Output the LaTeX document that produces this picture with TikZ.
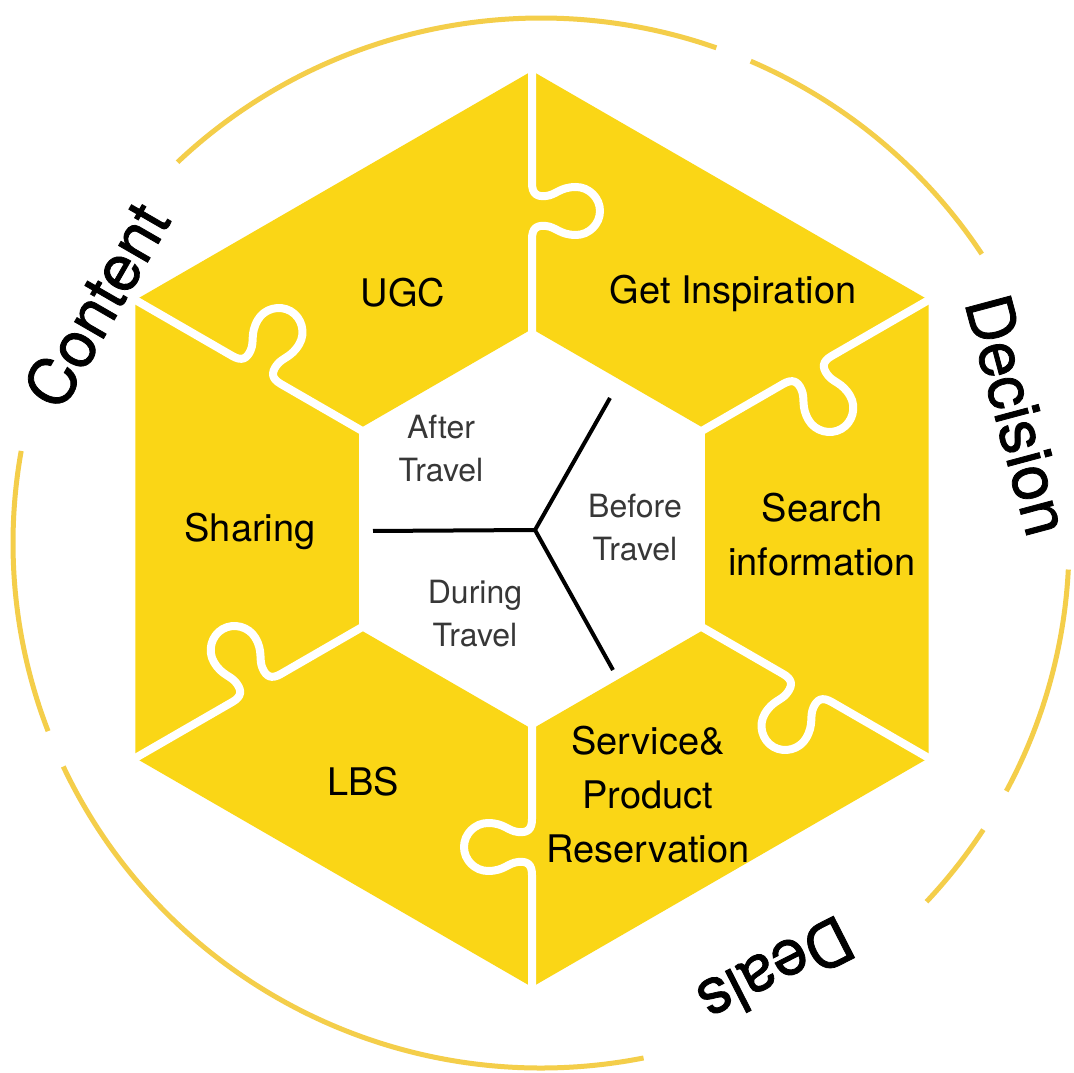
\documentclass[tikz,border=0pt]{standalone}
\usepackage{fontspec}
\setmainfont{TeX Gyre Heros}
\newfontfamily\stagefont{TeX Gyre Heros}[FakeBold=1.2]
\begin{document}
\begin{tikzpicture}[x=1pt,y=1pt]
\definecolor{hexyellow}{RGB}{250,214,22}
\definecolor{ringgold}{RGB}{244,206,74}
\definecolor{phasegray}{RGB}{55,55,55}
\tikzset{
  piecelabel/.style={font=\fontsize{38}{54}\selectfont, align=center, text=black, inner sep=0},
  phaselabel/.style={font=\fontsize{32}{43}\selectfont, align=center, text=phasegray, inner sep=0},
  stagelabel/.style={font=\stagefont\fontsize{64}{64}\selectfont, text=black, inner sep=0},
  ringarc/.style={draw=ringgold, line width=5},
  seam/.style={draw=white, line width=8, line join=round},
  spoke/.style={draw=black, line width=4},
}
\useasboundingbox (0,0) rectangle (1074,1072);
\fill[white] (0,0) rectangle (1074,1072);

% hexagonal ring of six puzzle pieces
\begin{scope}[shift={(532,543)}]
  \fill[hexyellow, even odd rule]
    (90:458) -- (30:458) -- (-30:458) -- (-90:458) -- (-150:458) -- (150:458) -- cycle
    (90:200) -- (30:200) -- (-30:200) -- (-90:200) -- (-150:200) -- (150:200) -- cycle;
  % seams between pieces, each with a tab pointing clockwise
  \foreach \a in {90,30,-30,-90,-150,150}{
    \begin{scope}[rotate=\a]
      \draw[seam] (190,0) -- (290,0)
        .. controls (301,0) and (304,-5) .. (303,-14)
        .. controls (302,-24) and (294,-28) .. (294,-44)
        .. controls (294,-57) and (305,-68) .. (318,-68)
        .. controls (331,-68) and (342,-57) .. (342,-44)
        .. controls (342,-28) and (334,-24) .. (333,-14)
        .. controls (332,-5) and (335,0) .. (346,0) -- (475,0);
    \end{scope}
  }
\end{scope}

% outer broken ring
\begin{scope}[shift={(541,529)}]
  \draw[ringarc] (70.6:528 and 525) arc[start angle=70.6, end angle=133.5, x radius=528, y radius=525];
  \draw[ringarc] (33.4:528 and 525) arc[start angle=33.4, end angle=66.6, x radius=528, y radius=525];
  \draw[ringarc] (-28.2:528 and 525) arc[start angle=-28.2, end angle=-2.9, x radius=528, y radius=525];
  \draw[ringarc] (-43.1:528 and 525) arc[start angle=-43.1, end angle=-33.1, x radius=528, y radius=525];
  \draw[ringarc] (205.2:528 and 525) arc[start angle=205.2, end angle=281.2, x radius=528, y radius=525];
  \draw[ringarc] (169.9:528 and 525) arc[start angle=169.9, end angle=201, x radius=528, y radius=525];
\end{scope}

% piece labels
\node[piecelabel] (ugc) at (403,779) {UGC};
\node[piecelabel] (insp) at (733,779) {Get Inspiration};
\node[piecelabel] (search) at (822,537) {Search\\information};
\node[piecelabel] (reserve) at (648,277) {Service\&\\Product\\Reservation};
\node[piecelabel] (lbs) at (363,290) {LBS};
\node[piecelabel] (share) at (250,541) {Sharing};

% travel phases in the middle
\coordinate (hub) at (535,542);
\coordinate (spokeW) at (373,541);
\coordinate (spokeNE) at (610,674);
\coordinate (spokeSE) at (613,402);
\draw[spoke] (spokeW) -- (hub) -- (spokeNE);
\draw[spoke] (hub) -- (spokeSE);
\node[phaselabel] (after) at (441,623) {After\\Travel};
\node[phaselabel] (before) at (635,544) {Before\\Travel};
\node[phaselabel] (during) at (475,458) {During\\Travel};

% stages around the ring
\node[stagelabel, rotate=60] (content) at (96,767) {Content};
\node[stagelabel, rotate=-75] (decision) at (1018,657) {Decision};
\node[stagelabel, rotate=207] (deals) at (776,101) {Deals};
\end{tikzpicture}
\end{document}
